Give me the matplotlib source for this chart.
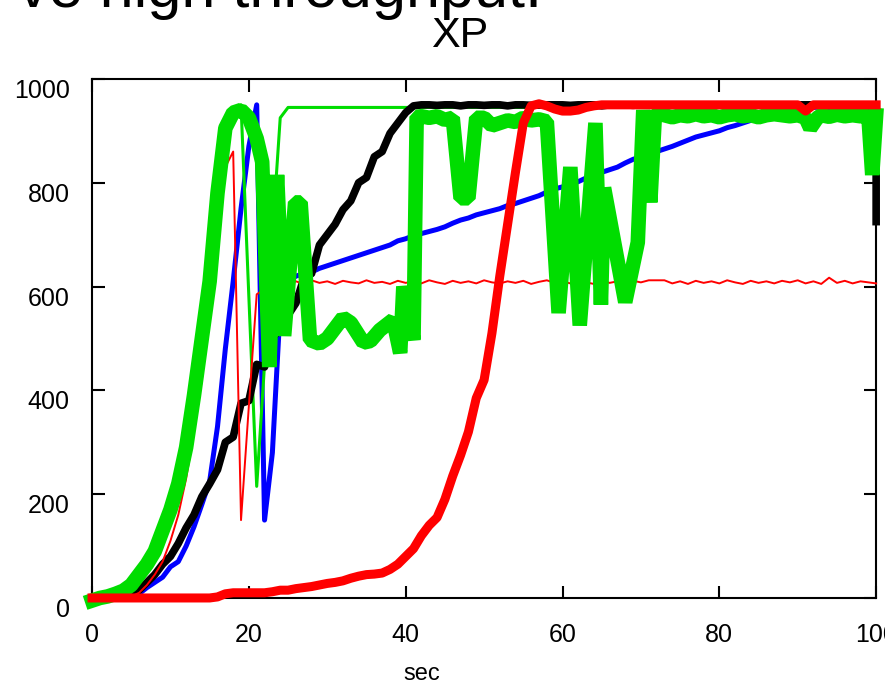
import numpy as np
import matplotlib.pyplot as plt

plt.rcParams['font.family'] = ['Liberation Sans', 'DejaVu Sans']

# seconds, one sample per second
t = np.arange(0, 101)

blue = [0, 0, 0, 0, 0, 2, 8, 20, 30, 40,
        60, 70, 100, 137, 180, 225, 330, 480, 610, 750,
        870, 950, 150, 280, 560, 610, 620, 625, 628, 635,
        640, 645, 650, 655, 660, 665, 670, 675, 680, 688,
        692, 698, 702, 706, 710, 715, 722, 728, 732, 738,
        742, 746, 750, 756, 760, 765, 770, 775, 782, 788,
        792, 797, 802, 809, 815, 820, 825, 830, 838, 845,
        850, 855, 860, 865, 870, 876, 882, 888, 892, 896,
        900, 906, 910, 915, 920, 928, 935, 940, 943, 945,
        945, 946, 945, 946, 945, 946, 945, 946, 945, 946,
        945]

# black ends with a drop at the last second
black_t = list(range(0, 101)) + [100]
black = [0, 0, 0, 0, 0, 3, 15, 30, 45, 65,
         80, 105, 135, 160, 195, 220, 247, 300, 310, 375,
         380, 450, 445, 500, 520, 545, 568, 615, 625, 680,
         700, 720, 748, 765, 800, 810, 850, 860, 895, 915,
         935, 948, 950, 950, 949, 950, 950, 948, 950, 950,
         949, 950, 950, 948, 950, 950, 949, 950, 950, 950,
         950, 949, 950, 950, 950, 948, 950, 950, 950, 949,
         950, 950, 950, 950, 949, 950, 950, 950, 950, 950,
         950, 949, 950, 950, 950, 950, 950, 949, 950, 950,
         950, 950, 950, 950, 949, 950, 950, 950, 950, 948,
         945, 725]

red_thick = [0, 0, 0, 0, 0, 0, 0, 0, 0, 0,
             0, 0, 0, 0, 0, 0, 2, 8, 10, 10,
             10, 10, 10, 12, 15, 15, 18, 20, 22, 25,
             28, 30, 33, 38, 42, 45, 46, 48, 55, 65,
             80, 95, 120, 140, 155, 190, 235, 275, 320, 385,
             420, 510, 620, 720, 820, 915, 948, 952, 948, 942,
             938, 938, 940, 945, 948, 950, 950, 950, 950, 950,
             950, 950, 950, 950, 950, 950, 950, 950, 950, 950,
             950, 950, 950, 950, 950, 950, 950, 950, 950, 950,
             950, 938, 950, 950, 950, 950, 950, 950, 950, 950,
             950]

red_thin = [0, 0, 0, 0, 0, 3, 10, 25, 45, 70,
            110, 160, 230, 320, 420, 560, 700, 830, 860, 150,
            370, 585, 595, 600, 605, 606, 610, 605, 612, 607,
            610, 605, 611, 608, 606, 612, 607, 609, 605, 611,
            607, 610, 606, 612, 608, 605, 611, 607, 610, 606,
            612, 608, 606, 610, 607, 611, 605, 609, 612, 607,
            610, 606, 611, 608, 605, 612, 607, 610, 606, 611,
            608, 612, 612, 612, 606, 610, 605, 611, 607, 610,
            606, 612, 608, 605, 611, 607, 610, 606, 611, 608,
            612, 606, 610, 605, 617, 607, 611, 606, 610, 608,
            606]

green_thin = [0, 0, 2, 5, 10, 20, 40, 60, 85, 120,
              160, 210, 270, 360, 470, 580, 740, 880, 930, 950,
              580, 215, 450, 700, 925, 945, 945, 945, 945, 945,
              945, 945, 945, 945, 945, 945, 945, 945, 945, 945,
              945, 945, 945, 945, 945, 945, 945, 945, 945, 945,
              945, 945, 945, 945, 945, 945, 945, 945, 945, 945,
              945, 945, 945, 945, 945, 945, 945, 945, 945, 945,
              945, 945, 945, 945, 945, 945, 945, 945, 945, 945,
              945, 945, 945, 945, 945, 945, 945, 945, 945, 945,
              945, 945, 945, 945, 945, 945, 945, 945, 945, 945,
              945]

# the thick green trace has uneven sample times
green_t = [0, 1, 2, 3, 4, 5, 6, 7, 8, 9,
           10, 11, 12, 13, 14, 15, 16, 17, 18, 19,
           20, 21, 21.7, 22.6, 23.6, 24.5, 25.9, 26.6, 27.8, 29,
           30, 31, 32, 33, 34.6, 35.5, 36.7, 38.4, 39.3, 39.7,
           41, 41.4, 42, 43, 44, 45, 46, 47, 48, 49,
           50, 51, 52, 53, 54, 55, 56, 57, 58, 59.5,
           61, 62.2, 64.2, 64.9, 65.3, 68, 69.6, 70.3, 71.2, 71.8,
           73, 74, 75, 76, 77, 78, 79, 80, 81, 82,
           83, 84, 85, 86, 87, 88, 89, 90, 91, 91.6,
           92.5, 93, 94, 95, 96, 97, 98, 99, 99.5, 100]
green_thick = [-5, 0, 3, 8, 14, 25, 45, 65, 90, 130,
               170, 220, 290, 390, 500, 610, 780, 905, 935, 940,
               925, 885, 840, 445, 815, 505, 762, 762, 497, 490,
               500, 520, 540, 530, 492, 495, 516, 536, 472, 600,
               497, 927, 928, 925, 928, 921, 925, 770, 770, 925,
               925, 910, 915, 920, 917, 925, 920, 922, 918, 549,
               830, 525, 915, 565, 790, 570, 685, 940, 762, 935,
               930, 926, 930, 928, 932, 928, 930, 926, 930, 932,
               928, 930, 926, 930, 932, 930, 928, 930, 925, 905,
               925, 930, 927, 931, 928, 930, 928, 930, 815, 930]

fig = plt.figure(figsize=(8.85, 6.83), dpi=100)
ax = fig.add_axes([0.104, 0.1245, 0.886, 0.760])

ax.plot(t, blue, color='#0000ff', lw=3.6, zorder=2, clip_on=False)
ax.plot(t, green_thin, color='#00dd00', lw=2.2, zorder=3, clip_on=False)
ax.plot(black_t, black, color='black', lw=5.5, zorder=4, clip_on=False)
ax.plot(t, red_thin, color='#ff0000', lw=1.4, zorder=5, clip_on=False)
ax.plot(green_t, green_thick, color='#00dd00', lw=10.5, zorder=6,
        solid_joinstyle='bevel', clip_on=False)
ax.plot(t, red_thick, color='#ff0000', lw=6.5, zorder=7, clip_on=False)

ax.set_xlim(0, 100)
ax.set_ylim(0, 1000)
ax.set_xticks([0, 20, 40, 60, 80, 100])
ax.set_yticks([0, 200, 400, 600, 800, 1000])
ax.tick_params(direction='in', length=9, width=1.5, top=True, right=True,
               labelsize=18)
ax.tick_params(axis='x', pad=18)
ax.tick_params(axis='y', pad=16)
for tk in ax.yaxis.get_major_ticks():
    tk.label1.set_verticalalignment('top')
for s in ax.spines.values():
    s.set_linewidth(1.5)
    s.set_zorder(1)

fig.text(422 / 885, 3 / 683, 'sec', ha='center', va='baseline', fontsize=17)
fig.text(460 / 885, 1 - 47 / 683, 'XP', ha='center', va='baseline', fontsize=31)
fig.text(542 / 885, 1 - 7 / 683, 've high throughput.', ha='right',
         va='baseline', fontsize=44)

fig.savefig('out.png', dpi=100)
